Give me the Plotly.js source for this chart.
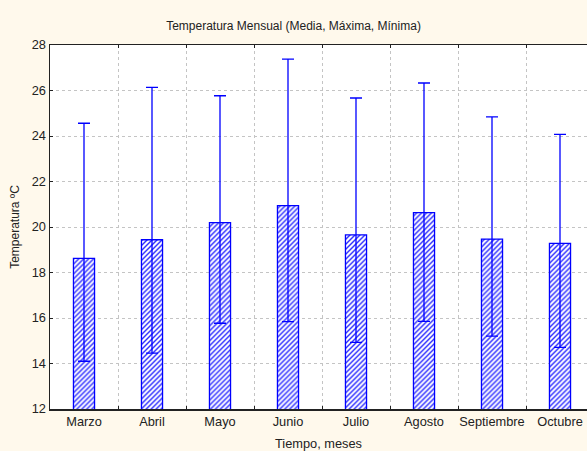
<!DOCTYPE html>
<html>
<head>
<meta charset="utf-8">
<script src="https://cdn.plot.ly/plotly-3.0.1.min.js"></script>
<style>html,body{margin:0;padding:0;background:#FFF9EC;}#chart{width:587px;height:451px;}</style>
</head>
<body>
<div id="chart"></div>
<script>
const months = ["Marzo","Abril","Mayo","Junio","Julio","Agosto","Septiembre","Octubre"];
const meanTemp = [18.62, 19.44, 20.19, 20.94, 19.65, 20.63, 19.47, 19.28];
const maxTemp  = [24.56, 26.14, 25.77, 27.38, 25.67, 26.33, 24.84, 24.07];
const minTemp  = [14.10, 14.46, 15.77, 15.84, 14.93, 15.85, 15.20, 14.71];
const yTicks = [12,14,16,18,20,22,24,26,28];

const errPlus = maxTemp.map((v,i)=>v-meanTemp[i]);
const errMinus = meanTemp.map((v,i)=>v-minTemp[i]);

const trace = {
  type: 'bar',
  x: months,
  y: meanTemp,
  width: 0.31,
  marker: {
    color: '#ffffff',
    line: {color: '#0000ff', width: 1.3},
    pattern: {shape: '/', fgcolor: '#2a2aff', bgcolor: '#ffffff', size: 3.5, solidity: 0.4}
  },
  error_y: {
    type: 'data', symmetric: false,
    array: errPlus, arrayminus: errMinus,
    color: '#0000ff', thickness: 1.3, width: 6
  },
  hoverinfo: 'x+y'
};

const font = {family: 'Liberation Sans, Arial, sans-serif', size: 12, color: '#222'};
const tfont = {family: 'Liberation Sans, Arial, sans-serif', size: 12.8, color: '#222'};
const layout = {
  width: 587, height: 451,
  paper_bgcolor: '#FFF9EC',
  plot_bgcolor: '#ffffff',
  margin: {l: 50, r: 0, t: 45, b: 42},
  font: font,
  showlegend: false,
  title: {text: 'Temperatura Mensual (Media, Máxima, Mínima)', font: {family: font.family, size: 12, color: '#222'}, x: 0.5, xanchor: 'center', y: 0.942, yanchor: 'middle'},
  xaxis: {
    type: 'category',
    range: [-0.5, 7.397],
    tickson: 'boundaries',
    tickangle: 0,
    ticks: 'inside', ticklen: 3, tickcolor: '#222',
    showline: true, linecolor: '#222', linewidth: 1.5, mirror: 'ticks',
    showgrid: true, gridcolor: '#c4c4c4', griddash: 'dot', gridwidth: 1,
    tickfont: tfont,
    title: {text: 'Tiempo, meses', font: tfont, standoff: 22},
    zeroline: false
  },
  yaxis: {
    range: [12, 28],
    tickvals: yTicks,
    ticktext: yTicks.map(String),
    ticks: 'inside', ticklen: 3, tickcolor: '#222',
    showline: true, linecolor: '#222', linewidth: 1.5,
    showgrid: true, gridcolor: '#c4c4c4', griddash: 'dot', gridwidth: 1,
    tickfont: tfont,
    title: {text: 'Temperatura ºC', font: font, standoff: 9},
    zeroline: false
  }
};

Plotly.newPlot('chart', [trace], layout, {staticPlot: true, displayModeBar: false});
</script>
</body>
</html>
